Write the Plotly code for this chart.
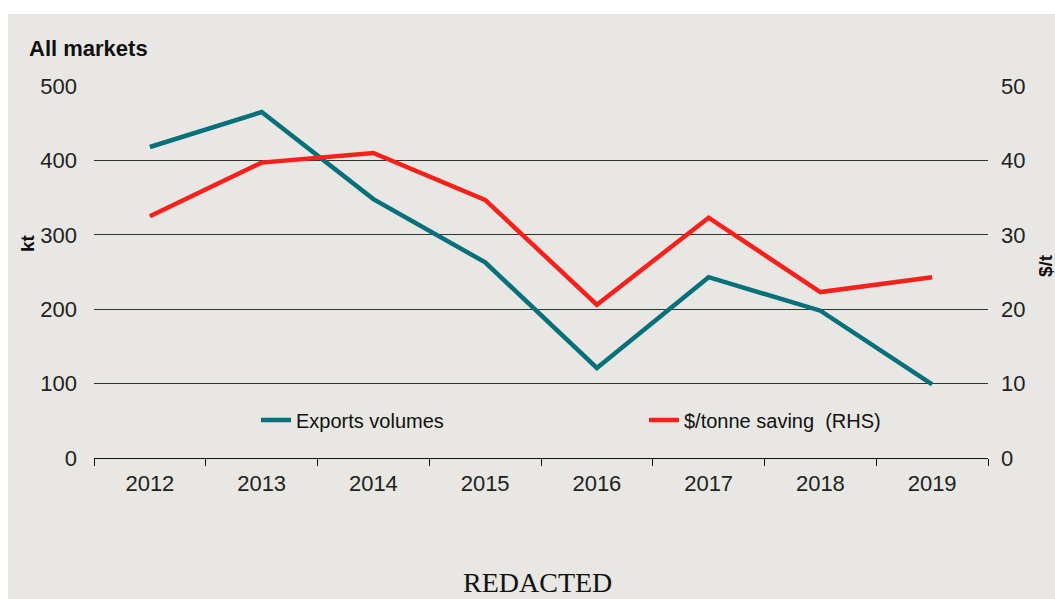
import plotly.graph_objects as go

years = ["2012", "2013", "2014", "2015", "2016", "2017", "2018", "2019"]
exports_kt = [418, 465, 348, 263, 121, 243, 198, 99]
saving_usd_t = [32.5, 39.7, 41.0, 34.7, 20.6, 32.3, 22.3, 24.3]

W, H = 1055, 599
L, R, T, B = 94, 67, 86, 141
pw, ph = W - L - R, H - T - B

def px_x(x):
    return (x - L) / pw

def px_y(y):
    return (H - B - y) / ph

BG = "#E8E7E3"
TEAL = "#07707A"
RED = "#F8201B"
TICKFONT = dict(family="Liberation Sans", size=22, color="#222")
LEGFONT = dict(family="Liberation Sans", size=20, color="#111")

fig = go.Figure()
fig.add_trace(go.Scatter(x=years, y=exports_kt, mode="lines", name="Exports volumes",
                         line=dict(color=TEAL, width=4.5), yaxis="y", legend="legend"))
fig.add_trace(go.Scatter(x=years, y=saving_usd_t, mode="lines", name="$/tonne saving  (RHS)",
                         line=dict(color=RED, width=4.5), yaxis="y2", legend="legend2"))

fig.update_layout(
    width=W, height=H,
    margin=dict(l=L, r=R, t=T, b=B),
    paper_bgcolor="white",
    plot_bgcolor="rgba(0,0,0,0)",
    showlegend=True,
    legend=dict(orientation="h", x=px_x(256), y=px_y(420), xanchor="left", yanchor="middle",
                bgcolor="rgba(0,0,0,0)", font=LEGFONT),
    legend2=dict(orientation="h", x=px_x(644), y=px_y(420), xanchor="left", yanchor="middle",
                 bgcolor="rgba(0,0,0,0)", font=LEGFONT),
    xaxis=dict(type="category", range=[-0.5, 7.5], showgrid=False, showline=True,
               linecolor="#111", linewidth=1, ticks="outside", tickson="boundaries",
               ticklen=7, tickcolor="#111", ticklabelstandoff=6, tickfont=TICKFONT),
    yaxis=dict(range=[0, 500], dtick=100, showgrid=True, gridcolor="#333", gridwidth=1,
               zeroline=False, showline=False, ticks="", ticklabelstandoff=16,
               tickfont=TICKFONT),
    yaxis2=dict(range=[0, 50], dtick=10, overlaying="y", side="right", showgrid=False,
                zeroline=False, showline=False, ticks="", ticklabelstandoff=12,
                tickfont=TICKFONT),
    shapes=[dict(type="rect", xref="paper", yref="paper", layer="below",
                 x0=px_x(8), x1=px_x(W + 5), y0=px_y(H + 5), y1=px_y(14),
                 fillcolor=BG, line=dict(width=0))],
    annotations=[
        dict(text="<b>All markets</b>", xref="paper", yref="paper", x=px_x(27), y=px_y(48),
             xanchor="left", yanchor="middle", showarrow=False,
             font=dict(family="Liberation Sans", size=22, color="#111")),
        dict(text="<b>kt</b>", xref="paper", yref="paper", x=px_x(28), y=px_y(243),
             xanchor="center", yanchor="middle", showarrow=False, textangle=-90,
             font=dict(family="Liberation Sans", size=19, color="#111")),
        dict(text="<b>$/t</b>", xref="paper", yref="paper", x=px_x(1045), y=px_y(266),
             xanchor="center", yanchor="middle", showarrow=False, textangle=-90,
             font=dict(family="Liberation Sans", size=19, color="#111")),
        dict(text="REDACTED", xref="paper", yref="paper", x=px_x(537), y=px_y(582),
             xanchor="center", yanchor="middle", showarrow=False,
             font=dict(family="Liberation Serif", size=28, color="#111")),
    ],
)

fig.write_html("out.html")
